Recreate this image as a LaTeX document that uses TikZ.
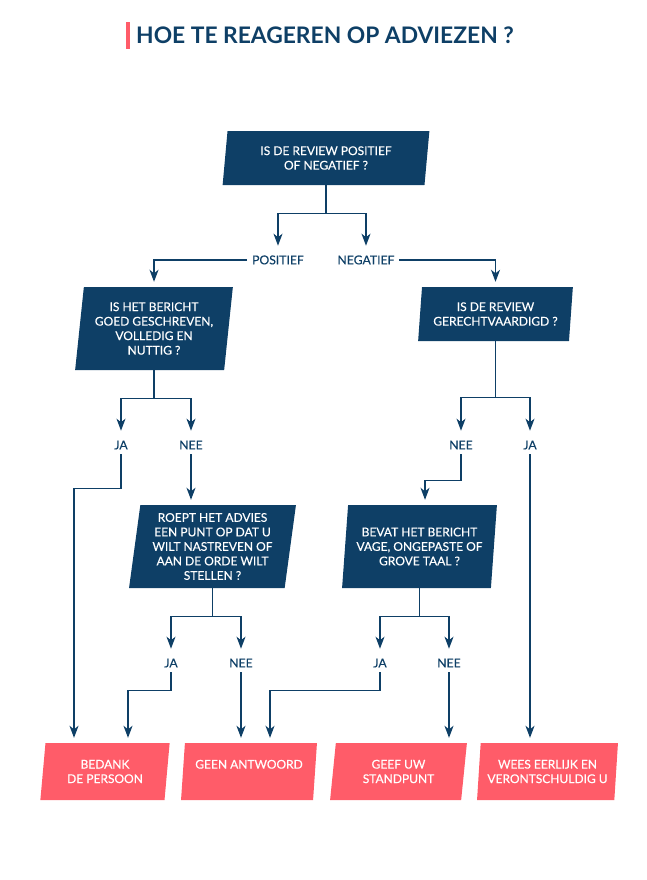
\documentclass[tikz,border=0pt]{standalone}
\usepackage{fontspec}
\setmainfont{Lato}
\newfontfamily\boxfont{Lato}[FakeBold=0.35]
\usetikzlibrary{shapes.geometric,arrows.meta}

\definecolor{navy}{HTML}{0E3F66}
\definecolor{coral}{HTML}{FF5C69}

\tikzset{
  question/.style={shape=trapezium, trapezium left angle=82, trapezium right angle=98,
    trapezium stretches=true, fill=navy, text=white, align=center, inner sep=0pt,
    font=\boxfont\fontsize{12}{14.5}\selectfont},
  answer/.style={question, fill=coral, minimum width=#1, minimum height=57pt},
  choice/.style={text=navy, inner sep=0pt, outer xsep=5pt, outer ysep=5pt,
    text height=8.6pt, text depth=0pt, font=\boxfont\fontsize{12.2}{14}\selectfont},
  flow/.style={draw=navy, line width=1.2pt},
  arr/.style={flow, shorten >=5pt, -{Stealth[length=12pt,width=9pt,inset=3.5pt]}}
}

\begin{document}
\begin{tikzpicture}[x=1pt,y=-1pt]
  \useasboundingbox (0,0) rectangle (646,880);

  % title
  \node[text=navy, font=\fontsize{22.8}{26}\bfseries, inner sep=0pt, anchor=west] (title) at (136,35)
    {HOE TE REAGEREN OP ADVIEZEN ?};
  \fill[coral] (126,22) rectangle (130,49);

  % questions
  \node[question, minimum width=207pt, minimum height=54pt] (q1) at (326,158)
    {IS DE REVIEW POSITIEF\\OF NEGATIEF ?};
  \node[question, minimum width=158pt, minimum height=83pt] (q2) at (154,328.5)
    {IS HET BERICHT\\GOED GESCHREVEN,\\VOLLEDIG EN\\NUTTIG ?};
  \node[question, minimum width=155pt, minimum height=54pt] (q3) at (495.5,314)
    {IS DE REVIEW\\GERECHTVAARDIGD ?};
  \node[question, minimum width=167pt, minimum height=83pt] (q4) at (212.5,546.5)
    {ROEPT HET ADVIES\\EEN PUNT OP DAT U\\WILT NASTREVEN OF\\AAN DE ORDE WILT\\STELLEN ?};
  \node[question, minimum width=155pt, minimum height=83pt] (q5) at (419.5,546.5)
    {BEVAT HET BERICHT\\VAGE, ONGEPASTE OF\\GROVE TAAL ?};

  % answers
  \node[answer=130pt] (a1) at (105,771.5) {BEDANK\\DE PERSOON};
  \node[answer=136pt] (a2) at (249,771.5) {GEEN ANTWOORD\\~};
  \node[answer=137pt] (a3) at (398.5,771.5) {GEEF UW\\STANDPUNT};
  \node[answer=141pt] (a4) at (547.5,771.5) {WEES EERLIJK EN\\VERONTSCHULDIG U};

  % choices
  \node[choice] (pos) at (278,260) {POSITIEF};
  \node[choice] (neg) at (366,260) {NEGATIEF};
  \node[choice] (ja1) at (121,445) {JA};
  \node[choice] (nee1) at (191,445) {NEE};
  \node[choice] (nee2) at (461,445) {NEE};
  \node[choice] (ja2) at (530,445) {JA};
  \node[choice] (ja3) at (171,663) {JA};
  \node[choice] (nee3) at (241,663) {NEE};
  \node[choice] (ja4) at (380,663) {JA};
  \node[choice] (nee4) at (449,663) {NEE};

  % connectors
  \draw[flow] (q1.south) -- ++(0,28) coordinate (s1);
  \draw[arr] (s1) -| (pos.north);
  \draw[arr] (s1) -| (neg.north);
  \draw[arr] (pos.west) -| (q2.north);
  \draw[arr] (neg.east) -| (q3.north);

  \draw[flow] (q2.south) -- ++(0,28) coordinate (s2);
  \draw[arr] (s2) -| (ja1.north);
  \draw[arr] (s2) -| (nee1.north);
  \draw[flow] (q3.south) -- ++(0,56) coordinate (s3);
  \draw[arr] (s3) -| (nee2.north);
  \draw[arr] (s3) -| (ja2.north);

  \draw[arr] (ja1.south) -- ++(0,34) -| ([xshift=-31pt]a1.north);
  \draw[arr] (nee1.south) -- (nee1.south |- q4.north);
  \draw[arr] (nee2.south) -- ++(0,26) -| ([xshift=5.5pt]q5.north);
  \draw[arr] (ja2.south) -- (ja2.south |- a4.north);

  \draw[flow] (q4.south) -- ++(0,28) coordinate (s4);
  \draw[arr] (s4) -| (ja3.north);
  \draw[arr] (s4) -| (nee3.north);
  \draw[flow] (q5.south) -- ++(0,28) coordinate (s5);
  \draw[arr] (s5) -| (ja4.north);
  \draw[arr] (s5) -| (nee4.north);

  \draw[arr] (ja3.south) -- ++(0,18) -| ([xshift=23pt]a1.north);
  \draw[arr] (nee3.south) -- (nee3.south |- a2.north);
  \draw[arr] (ja4.south) -- ++(0,18) -| ([xshift=21pt]a2.north);
  \draw[arr] (nee4.south) -- (nee4.south |- a3.north);
\end{tikzpicture}
\end{document}
